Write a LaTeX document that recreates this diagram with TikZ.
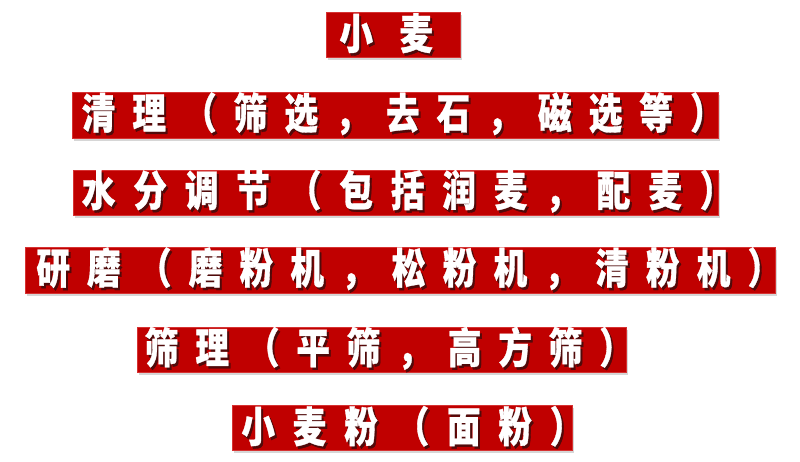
\documentclass[tikz,border=0pt]{standalone}
\usepackage{fontspec}
\newfontfamily\cjk{Noto Sans CJK SC}[FakeStretch=0.8,BoldFeatures={FakeBold=0.8}]
\definecolor{boxred}{RGB}{192,0,0}
\definecolor{boxedge}{RGB}{214,50,50}
\definecolor{shadowc}{RGB}{80,10,10}
\ExplSyntaxOn
\NewDocumentCommand\cells{mm}{\tl_map_inline:nn{#2}{\makebox[#1]{##1}}}
\ExplSyntaxOff
\newcommand\shadowed[2]{\rlap{\hspace{2pt}\raisebox{-2.5pt}{\color{shadowc}\cells{#1}{#2}}}\cells{#1}{#2}}
\begin{document}
\begin{tikzpicture}[x=1pt,y=-1pt,
  redbox/.style={fill=boxred,draw=boxedge,line width=0.6pt,inner sep=0pt,outer sep=0pt,anchor=north west},
  boxshadow/.style={fill=black,opacity=0.16},
  stagetext/.style={text=white,inner sep=0pt,anchor=west,font=\cjk\bfseries\fontsize{42}{42}\selectfont}]
\useasboundingbox (0,0) rectangle (800,462);
\newcommand\stage[8]{%
  \fill[boxshadow] ({#2+2},{#3+3}) rectangle ({#4+2},{#5+3});
  \node[redbox,minimum width={#4-#2},minimum height={#5-#3}] (b#1) at (#2,#3) {};
  \node[stagetext] (t#1) at (#7,{(#3+#5)/2}) {\shadowed{#6pt}{#8}};
}
\stage{1}{326}{12}{460}{57}{60}{326}{小麦}
\stage{2}{72}{92}{718}{138}{50.7}{73}{清理（筛选，去石，磁选等）}
\stage{3}{73}{170}{718}{215}{51.5}{72.7}{水分调节（包括润麦，配麦）}
\stage{4}{25}{247}{775}{293}{50.8}{27.6}{研磨（磨粉机，松粉机，清粉机）}
\stage{5}{137}{327}{626}{372}{50.5}{136.3}{筛理（平筛，高方筛）}
\stage{6}{232}{405}{572}{450}{51.4}{232.3}{小麦粉（面粉）}
\end{tikzpicture}
\end{document}
